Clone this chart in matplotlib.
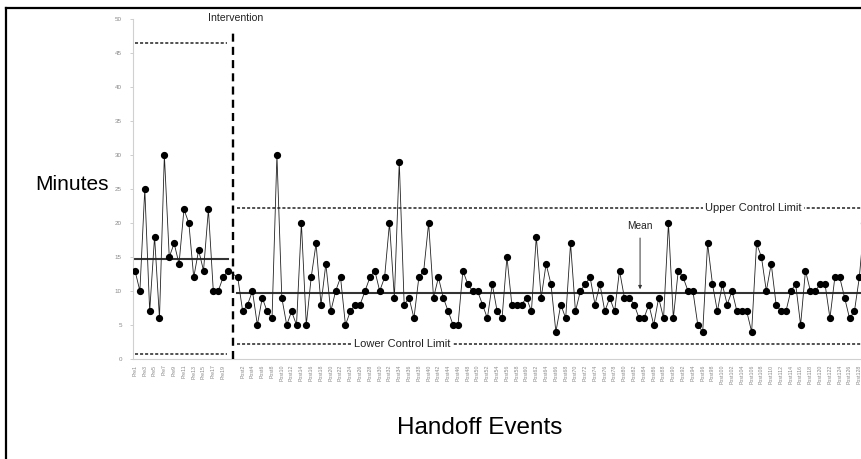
import numpy as np
import matplotlib
matplotlib.use("Agg")
import matplotlib.pyplot as plt
from matplotlib.lines import Line2D

plt.rcParams['font.family'] = ['Liberation Sans', 'DejaVu Sans']

# ---------------- data ----------------
pre_values = [13, 10, 25, 7, 18, 6, 30, 15, 17, 14, 22, 20, 12, 16, 13, 22, 10, 10, 12, 13]
post_values = [
    12, 7, 8, 10, 5, 9, 7, 6, 30, 9, 5, 7, 5, 20, 5, 12, 17, 8, 14, 7,
    10, 12, 5, 7, 8, 8, 10, 12, 13, 10, 12, 20, 9, 29, 8, 9, 6, 12, 13, 20,
    9, 12, 9, 7,
    5, 5, 13, 11, 10, 10, 8, 6, 11, 7, 6, 15, 8, 8, 8, 9, 7, 18, 9, 14,
    11, 4, 8, 6, 17, 7, 10, 11, 12, 8, 11, 7, 9, 7, 13, 9, 9, 8, 6,
    6, 8, 5, 9, 6, 20, 6, 13, 12, 10, 10, 5, 4, 17, 11, 7, 11, 8, 10, 7,
    7, 7, 4, 17, 15, 10, 14, 8, 7, 7, 10, 11, 5, 13, 10, 10, 11, 11, 6, 12,
    12, 9, 6, 7, 12, 20,
]
pre_mean, pre_ucl, pre_lcl = 14.7, 46.5, 0.8
post_mean, post_ucl, post_lcl = 9.65, 22.2, 2.2
y_ticks = list(range(0, 51, 5))
pre_labels = [f"Pre{i + 1}" for i in range(len(pre_values))]
post_labels = [f"Post{i + 1}" for i in range(len(post_values))]

# ---------------- positions ----------------
n_pre = len(pre_values)
gap = 1
pre_x = np.arange(n_pre)
post_x = np.arange(len(post_values)) + n_pre + gap
all_x = np.concatenate([pre_x, post_x])
all_y = np.array(pre_values + post_values)
interv_x = n_pre

W, H = 862, 459
fig = plt.figure(figsize=(W / 100, H / 100), dpi=100)
ax_left = 133 / W
ax_bottom = (H - 359) / H
ax_top = (H - 19) / H
ax = fig.add_axes([ax_left, ax_bottom, 1.0 - ax_left, ax_top - ax_bottom])

px_per_unit = 4.894
x_min = -2 / px_per_unit
x_max = x_min + (W - 133) / px_per_unit
ax.set_xlim(x_min, x_max)
ax.set_ylim(0, 50)

# data line + markers
ax.plot(all_x, all_y, color='#222222', lw=0.6, zorder=3)
ax.plot(all_x, all_y, 'o', color='black', ms=4.2, zorder=4, clip_on=True)

# mean lines
ax.plot([pre_x[0], pre_x[-1]], [pre_mean, pre_mean], color='#333333', lw=1.5, zorder=2)
ax.plot([post_x[0] - 0.2, x_max + 1], [post_mean, post_mean], color='#333333', lw=1.5, zorder=2)

# control limits
dash = (0, (2.0, 1.3))
ax.plot([pre_x[0], pre_x[-1] - 0.2], [pre_ucl, pre_ucl], color='#222222', lw=1.1, ls=dash)
ax.plot([pre_x[0], pre_x[-1] - 0.2], [pre_lcl, pre_lcl], color='#222222', lw=1.1, ls=dash)
ax.plot([post_x[0] - 0.2, x_max + 1], [post_ucl, post_ucl], color='#222222', lw=1.1, ls=dash)
ax.plot([post_x[0] - 0.2, x_max + 1], [post_lcl, post_lcl], color='#222222', lw=1.1, ls=dash)

# intervention line
ax.plot([interv_x, interv_x], [0, 48.1], color='black', lw=1.7, ls=(0, (3.4, 2.2)), zorder=5)
ax.text(interv_x + 0.5, 50.1, "Intervention", ha='center', va='center', fontsize=7.6,
        color='#222222', clip_on=False)

# inline labels on the limit lines
box = dict(facecolor='white', edgecolor='none', pad=1.5)
ax.text(126.4, post_ucl, "Upper Control Limit", ha='center', va='center', fontsize=8,
        color='#222222', bbox=box, zorder=6)
ax.text(54.5, post_lcl, "Lower Control Limit", ha='center', va='center', fontsize=8,
        color='#222222', bbox=box, zorder=6)

# mean annotation
ax.annotate("", xy=(103.2, post_mean + 0.2), xytext=(103.2, 18.2),
            arrowprops=dict(arrowstyle='-|>', color='#333333', lw=0.7,
                            mutation_scale=5), zorder=6)
ax.text(103.2, 19.5, "Mean", ha='center', va='center', fontsize=7.3, color='#222222')

# ticks
ax.set_yticks(y_ticks)
ax.set_yticklabels([str(t) for t in y_ticks], fontsize=4.5, color='#888888')
tick_pos = list(pre_x[::2]) + list(post_x[1::2])
tick_lab = pre_labels[::2] + post_labels[1::2]
ax.set_xticks(tick_pos)
ax.set_xticklabels(tick_lab, rotation=90, fontsize=3.8, color='#888888')
ax.tick_params(axis='y', length=2, width=0.5, color='#bbbbbb', pad=6)
ax.tick_params(axis='x', length=0, pad=4)

for s in ['top', 'right']:
    ax.spines[s].set_visible(False)
for s in ['left', 'bottom']:
    ax.spines[s].set_color('#d0d0d0')
    ax.spines[s].set_linewidth(0.8)

# axis titles
fig.text(72 / W, (H - 185) / H, "Minutes", ha='center', va='center', fontsize=15, color='black')
fig.text(480 / W, (H - 428) / H, "Handoff Events", ha='center', va='center', fontsize=17.5,
         color='black')

# outer frame (left and top)
fig.add_artist(Line2D([6 / W, 6 / W], [0, (H - 7.5) / H], color='black', lw=1.6,
                      transform=fig.transFigure))
fig.add_artist(Line2D([6 / W, 1], [(H - 7.5) / H, (H - 7.5) / H], color='black', lw=1.6,
                      transform=fig.transFigure))

fig.savefig("out.png", dpi=100)
